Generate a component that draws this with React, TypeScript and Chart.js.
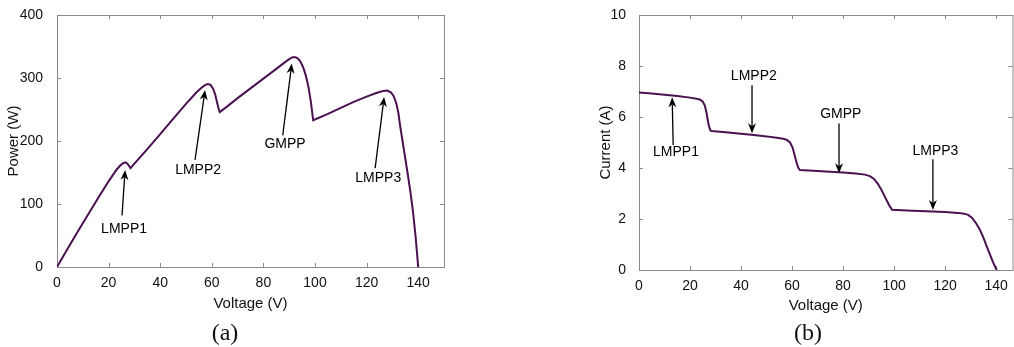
import React, { useEffect, useRef } from "react";
import { Chart, registerables } from "chart.js";
Chart.register(...registerables);

// ---------- data ----------
const xTicks = [0, 20, 40, 60, 80, 100, 120, 140];
const powerTicks = [0, 100, 200, 300, 400];
const currentTicks = [0, 2, 4, 6, 8, 10];

const pvVoltage = [0, 4, 8, 12, 16, 20, 23, 24.5, 25.5, 26.5, 27.3, 28, 28.5, 30, 35, 40, 45, 50, 54, 56, 57.5, 58.5, 59.5, 60.5, 61.3, 62, 62.6, 63.1, 66, 70, 75, 80, 85, 88, 90, 91.3, 92.5, 93.5, 94.5, 95.5, 96.5, 97.5, 98.4, 99.3, 105, 110, 115, 120, 124, 126.5, 128, 129.5, 130.5, 131.5, 132.3, 133, 134, 135, 136, 137, 138, 139, 140];
const pvPower = [0, 28, 56, 83, 110, 136, 154, 161, 164.5, 166, 164, 160, 157, 164, 187, 211, 235, 259, 277, 284.5, 289, 290.5, 289, 283, 274, 262, 252, 246, 255, 268, 283.5, 299, 314.5, 324, 330, 333, 333, 330.5, 325, 316, 303, 285, 262, 233, 243, 252.5, 262, 270.5, 276.5, 279.5, 280, 277, 271, 260, 245, 224, 198, 172, 146, 119, 87, 48, 0];

const ivVoltage = [0, 5, 10, 15, 20, 22.5, 24, 25, 25.8, 26.4, 26.9, 27.4, 28, 28.5, 35, 40, 45, 50, 54, 56.5, 58, 59.2, 60.2, 61, 61.8, 62.5, 63.1, 70, 75, 80, 85, 88.5, 90.5, 92, 93.5, 95, 96.5, 98, 99.2, 105, 110, 115, 120, 125, 127.5, 129, 130.5, 132, 133.5, 135, 136.3, 137.5, 138.8, 140.2];
const ivCurrent = [6.96, 6.92, 6.87, 6.82, 6.76, 6.72, 6.68, 6.6, 6.45, 6.2, 5.9, 5.65, 5.47, 5.45, 5.39, 5.34, 5.29, 5.24, 5.19, 5.15, 5.1, 5.0, 4.8, 4.5, 4.2, 4.0, 3.92, 3.88, 3.85, 3.82, 3.78, 3.74, 3.68, 3.58, 3.4, 3.15, 2.85, 2.55, 2.36, 2.33, 2.31, 2.29, 2.27, 2.24, 2.21, 2.16, 2.05, 1.85, 1.6, 1.27, 0.93, 0.62, 0.3, 0];

// annotations: label, text (x,y), arrow tail (x,y), arrow tip (x,y) in data units
const pvLabels = ["LMPP1", "LMPP2", "GMPP", "LMPP3"];
const pvText = [[26.0, 60], [54.7, 154], [88.4, 195], [124.5, 141]];
const pvTail = [[25.2, 82], [53.5, 170], [87.5, 209], [123.3, 157]];
const pvTip = [[26.4, 154], [57.4, 281], [91.0, 323], [126.8, 270]];

const ivLabels = ["LMPP1", "LMPP2", "GMPP", "LMPP3"];
const ivText = [[14.5, 4.63], [45.0, 7.61], [79.1, 6.12], [116.2, 4.67]];
const ivTail = [[13.4, 4.9], [44.3, 7.25], [78.4, 5.75], [115.2, 4.34]];
const ivTip = [[13.0, 6.77], [44.3, 5.36], [78.4, 3.79], [115.2, 2.35]];

// ---------- styles ----------
const FONT = "'Liberation Sans', Arial, Helvetica, sans-serif";
const LINE_COLOR = "#4a1150";
const AXIS_COLOR = "#8a8a8a";

const framePlugin = {
  id: "frame",
  beforeDatasetsDraw(chart: any) {
    const { ctx, chartArea: a, scales } = chart;
    ctx.save();
    ctx.strokeStyle = AXIS_COLOR;
    ctx.lineWidth = 1;
    ctx.strokeRect(a.left + 0.5, a.top + 0.5, a.right - a.left, a.bottom - a.top);
    const tl = 4;
    ctx.beginPath();
    scales.x.ticks.forEach((t: any) => {
      const px = Math.round(scales.x.getPixelForValue(t.value)) + 0.5;
      ctx.moveTo(px, a.bottom);
      ctx.lineTo(px, a.bottom - tl);
      ctx.moveTo(px, a.top);
      ctx.lineTo(px, a.top + tl);
    });
    scales.y.ticks.forEach((t: any) => {
      const py = Math.round(scales.y.getPixelForValue(t.value)) + 0.5;
      ctx.moveTo(a.left, py);
      ctx.lineTo(a.left + tl, py);
      ctx.moveTo(a.right, py);
      ctx.lineTo(a.right - tl, py);
    });
    ctx.stroke();
    ctx.restore();
  },
  afterDatasetsDraw(chart: any, _args: any, opts: any) {
    const { ctx, scales } = chart;
    const notes = opts.notes || [];
    ctx.save();
    notes.forEach((n: any) => {
      const X = (v: number) => scales.x.getPixelForValue(v);
      const Y = (v: number) => scales.y.getPixelForValue(v);
      const tx = X(n.tip[0]), ty = Y(n.tip[1]);
      const sx = X(n.tail[0]), sy = Y(n.tail[1]);
      const dx = tx - sx, dy = ty - sy;
      const len = Math.hypot(dx, dy);
      const ux = dx / len, uy = dy / len;
      const nx = -uy, ny = ux;
      const L = 10, W = 4, notch = 7;
      ctx.strokeStyle = "#000";
      ctx.fillStyle = "#000";
      ctx.lineWidth = 1.3;
      ctx.beginPath();
      ctx.moveTo(sx, sy);
      ctx.lineTo(tx - ux * notch, ty - uy * notch);
      ctx.stroke();
      ctx.beginPath();
      ctx.moveTo(tx, ty);
      ctx.lineTo(tx - ux * L + nx * W, ty - uy * L + ny * W);
      ctx.lineTo(tx - ux * notch, ty - uy * notch);
      ctx.lineTo(tx - ux * L - nx * W, ty - uy * L - ny * W);
      ctx.closePath();
      ctx.fill();
      ctx.font = `14px ${FONT}`;
      ctx.textAlign = "center";
      ctx.textBaseline = "middle";
      ctx.fillText(n.label, X(n.text[0]), Y(n.text[1]));
    });
    ctx.restore();
  },
};

function buildConfig(p: {
  xs: number[];
  ys: number[];
  yTicks: number[];
  yMax: number;
  xMax: number;
  yTitle: string;
  notes: any[];
  yAxisWidth: number;
  yTitlePad: number;
  yTickPad: number;
  padRight: number;
  padBottom: number;
  xAxisHeight: number;
}) {
  return {
    type: "line",
    data: {
      datasets: [
        {
          data: p.xs.map((x, i) => ({ x, y: p.ys[i] })),
          borderColor: LINE_COLOR,
          borderWidth: 2,
          pointRadius: 0,
          tension: 0,
          fill: false,
        },
      ],
    },
    options: {
      animation: false,
      responsive: false,
      events: [],
      layout: { padding: { left: 0, top: 15, right: p.padRight, bottom: p.padBottom } },
      plugins: {
        legend: { display: false },
        tooltip: { enabled: false },
        frame: { notes: p.notes },
      },
      scales: {
        x: {
          type: "linear",
          min: 0,
          max: p.xMax,
          afterBuildTicks: (s: any) => {
            s.ticks = xTicks.map((v) => ({ value: v }));
          },
          afterFit: (s: any) => {
            s.height = p.xAxisHeight;
          },
          grid: { display: false },
          border: { display: false },
          ticks: { padding: 0, color: "#111", font: { family: FONT, size: 14 }, maxRotation: 0 },
          title: {
            display: true,
            text: "Voltage (V)",
            color: "#111",
            font: { family: FONT, size: 15 },
            padding: { top: 0, bottom: 0 },
          },
        },
        y: {
          type: "linear",
          min: 0,
          max: p.yMax,
          afterBuildTicks: (s: any) => {
            s.ticks = p.yTicks.map((v) => ({ value: v }));
          },
          afterFit: (s: any) => {
            s.width = p.yAxisWidth;
          },
          grid: { display: false },
          border: { display: false },
          ticks: { padding: p.yTickPad, color: "#111", font: { family: FONT, size: 14 } },
          title: {
            display: true,
            text: p.yTitle,
            color: "#111",
            font: { family: FONT, size: 15 },
            padding: { top: p.yTitlePad, bottom: 0 },
          },
        },
      },
    },
    plugins: [framePlugin],
  } as any;
}

function toNotes(labels: string[], text: number[][], tail: number[][], tip: number[][]) {
  return labels.map((label, i) => ({ label, text: text[i], tail: tail[i], tip: tip[i] }));
}

export default function App() {
  const leftRef = useRef<HTMLCanvasElement>(null);
  const rightRef = useRef<HTMLCanvasElement>(null);

  useEffect(() => {
    const left = new Chart(
      leftRef.current!,
      buildConfig({
        xs: pvVoltage,
        ys: pvPower,
        yTicks: powerTicks,
        yMax: 400,
        xMax: 150,
        yTitle: "Power (W)",
        notes: toNotes(pvLabels, pvText, pvTail, pvTip),
        yAxisWidth: 57,
        yTitlePad: 5,
        yTickPad: 6,
        padRight: 6,
        padBottom: 34,
        xAxisHeight: 46,
      })
    );
    const right = new Chart(
      rightRef.current!,
      buildConfig({
        xs: ivVoltage,
        ys: ivCurrent,
        yTicks: currentTicks,
        yMax: 10,
        xMax: 146.4,
        yTitle: "Current (A)",
        notes: toNotes(ivLabels, ivText, ivTail, ivTip),
        yAxisWidth: 51,
        yTitlePad: 9,
        yTickPad: 5,
        padRight: 1.5,
        padBottom: 32,
        xAxisHeight: 45,
      })
    );
    return () => {
      left.destroy();
      right.destroy();
    };
  }, []);

  const caption: React.CSSProperties = {
    position: "absolute",
    top: 319,
    width: 60,
    textAlign: "center",
    fontFamily: "'Liberation Serif', 'Times New Roman', serif",
    fontSize: 24,
    lineHeight: "26px",
    color: "#111",
  };

  return (
    <div style={{ position: "absolute", left: 0, top: 0, width: 1014, height: 347, background: "#fff", overflow: "hidden" }}>
      <canvas ref={leftRef} width={450} height={347} style={{ position: "absolute", left: 0, top: 0 }} />
      <canvas ref={rightRef} width={426} height={347} style={{ position: "absolute", left: 588, top: 0 }} />
      <div style={{ ...caption, left: 225 - 30 }}>(a)</div>
      <div style={{ ...caption, left: 808 - 30 }}>(b)</div>
    </div>
  );
}
